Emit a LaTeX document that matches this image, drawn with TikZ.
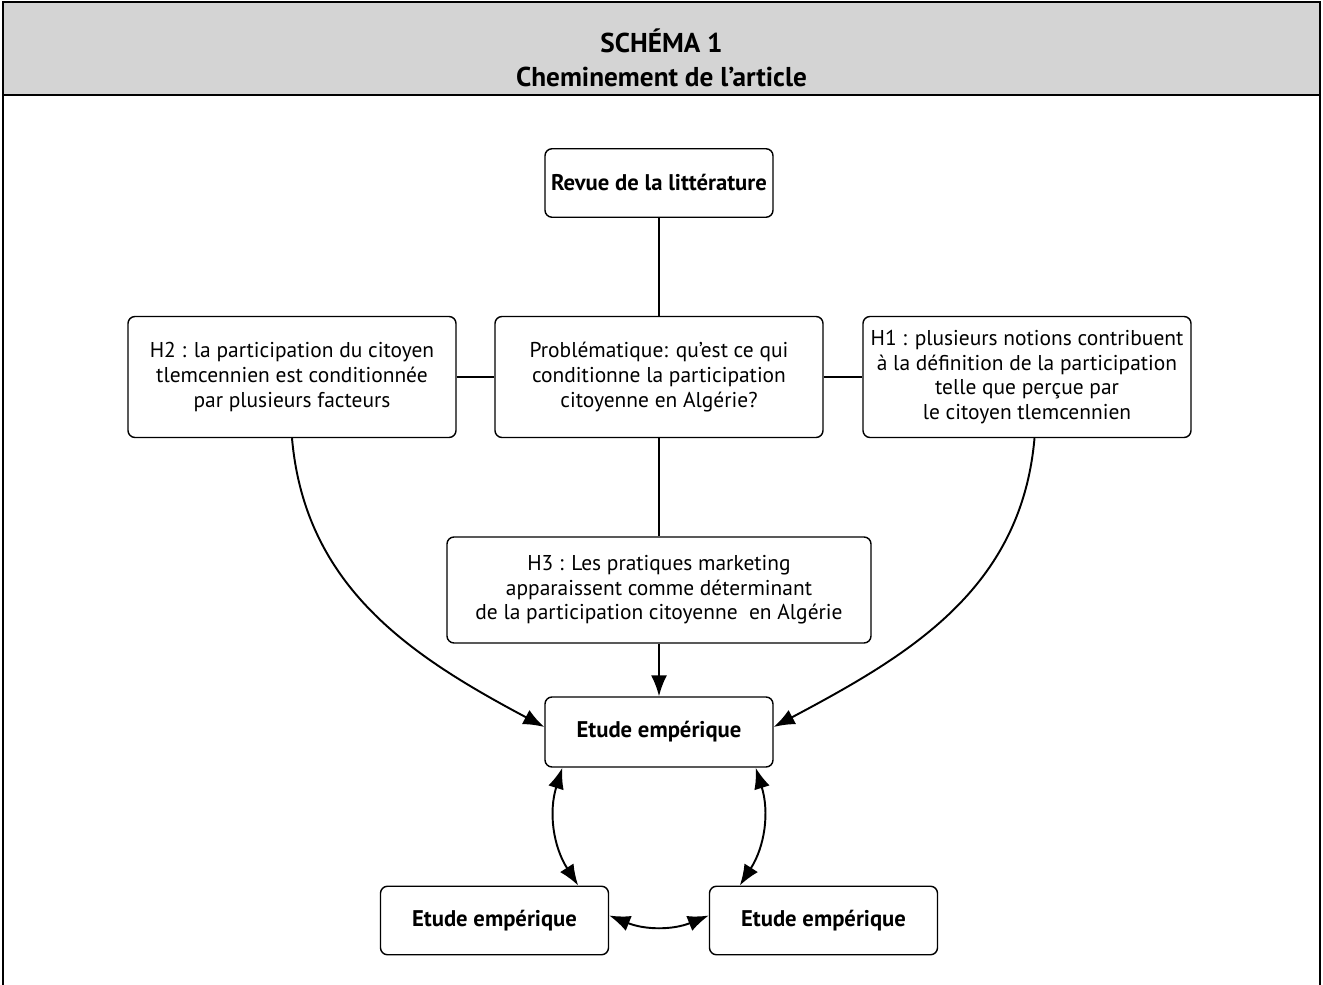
\documentclass[tikz,border=0pt]{standalone}
\usepackage{fontspec}
\setmainfont{PT Sans}
\usetikzlibrary{arrows.meta}

\begin{document}
\begin{tikzpicture}[
  >={Latex[length=4.2mm, width=3.2mm]},
  conn/.style={line width=1.1pt},
  box/.style={draw, line width=0.8pt, rounded corners=4pt, align=center,
    font=\fontsize{12.2}{14}\selectfont, inner sep=2pt},
  bbox/.style={box, font=\fontsize{12.9}{15}\selectfont\bfseries,
    minimum width=4.56cm, minimum height=1.37cm},
  hyp/.style={box, minimum width=6.56cm, minimum height=2.42cm},
  head/.style={font=\fontsize{15.5}{18}\selectfont\bfseries, anchor=base, inner sep=0pt}]
\useasboundingbox (0,0) rectangle (26.46,-19.70);
% header and frame
\draw[line width=0.8pt, fill=black!17] (0.06,-0.04) rectangle (26.40,-1.90);
\draw[line width=0.8pt] (0.06,-1.90) -- (0.06,-19.70);
\draw[line width=0.8pt] (26.40,-1.90) -- (26.40,-19.70);
\node[head] (tit) at (13.23,-1.06) {SCHÉMA 1};
\node[head] (sub) at (13.23,-1.74) {Cheminement de l’article};
% boxes
\node[bbox] (rev) at (13.18,-3.66) {Revue de la littérature};
\node[hyp] (h2) at (5.84,-7.54) {H2 : la participation du citoyen\\tlemcennien est conditionnée\\par plusieurs facteurs};
\node[hyp] (pb) at (13.18,-7.54) {Problématique: qu'est ce qui\\conditionne la participation\\citoyenne en Algérie?};
\node[hyp] (h1) at (20.54,-7.54) {H1 : plusieurs notions contribuent\\à la définition de la participation\\telle que perçue par\\le citoyen tlemcennien};
\node[box, minimum width=8.48cm, minimum height=2.12cm] (h3) at (13.18,-11.80)
  {H3 : Les pratiques marketing\\apparaissent comme déterminant\\de la participation citoyenne\ \ en Algérie};
\node[bbox, minimum height=1.40cm] (et) at (13.18,-14.64) {Etude empérique};
\node[bbox] (etl) at (9.89,-18.41) {Etude empérique};
\node[bbox] (etr) at (16.47,-18.41) {Etude empérique};
% connectors
\draw[conn] (rev) -- (pb);
\draw[conn] (h2) -- (pb);
\draw[conn] (pb) -- (h1);
\draw[conn] (pb) -- (h3);
\draw[conn, ->] (h3) -- (et);
\draw[conn, ->] (h2.south) to[out=-85, in=152] ([yshift=0.1cm]et.west);
\draw[conn, ->] ([xshift=0.15cm]h1.south) to[out=-95, in=28] ([yshift=0.1cm]et.east);
\draw[conn, <->] ([xshift=0.36cm]et.south west) to[bend right=25] ([xshift=-0.62cm]etl.north east);
\draw[conn, <->] ([xshift=-0.36cm]et.south east) to[bend left=25] ([xshift=0.62cm]etr.north west);
\draw[conn, <->] ([yshift=0.1cm]etl.east) to[bend right=22] ([yshift=0.1cm]etr.west);
\end{tikzpicture}
\end{document}
